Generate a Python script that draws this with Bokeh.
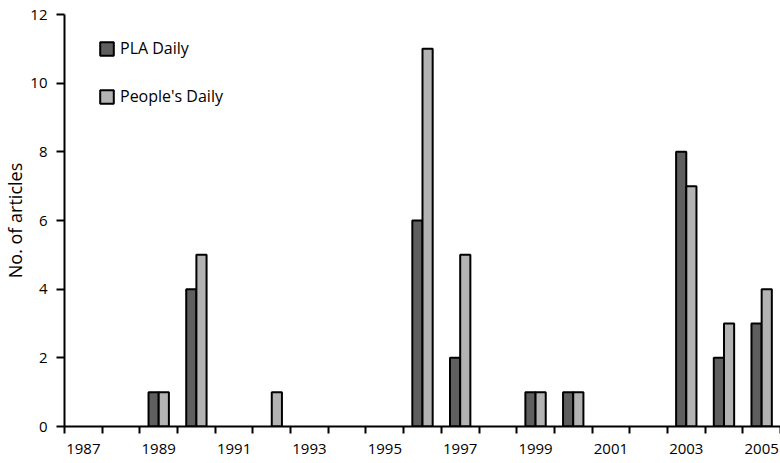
from bokeh.plotting import figure
from bokeh.models import Range1d, FixedTicker, Legend, LegendItem, ColumnDataSource
from bokeh.embed import file_html
from bokeh.resources import INLINE

years = list(range(1987, 2006))
pla_daily = [0, 0, 1, 4, 0, 0, 0, 0, 0, 6, 2, 0, 1, 1, 0, 0, 8, 2, 3]
peoples_daily = [0, 0, 1, 5, 0, 1, 0, 0, 0, 11, 5, 0, 1, 1, 0, 0, 7, 3, 4]
year_labels = [y for y in years if y % 2 == 1]
y_ticks = [0, 2, 4, 6, 8, 10, 12]

FONT = "Open Sans"
BAR_W = 0.27

def nonzero(vals, shift):
    xs = [y + shift for y, v in zip(years, vals) if v > 0]
    tops = [v for v in vals if v > 0]
    return ColumnDataSource(dict(x=xs, top=tops))

p = figure(width=780, height=463, output_backend="svg", toolbar_location=None,
           x_range=Range1d(1986.5, 2005.5), y_range=Range1d(0, 12),
           min_border_left=64, min_border_right=0, min_border_top=14, min_border_bottom=37)
p.outline_line_color = None
p.xgrid.visible = False
p.ygrid.visible = False
p.background_fill_color = "white"

r1 = p.vbar(x="x", top="top", width=BAR_W, bottom=0, source=nonzero(pla_daily, -BAR_W / 2),
            fill_color="#5f5f5f", line_color="black", line_width=2)
r2 = p.vbar(x="x", top="top", width=BAR_W, bottom=0, source=nonzero(peoples_daily, BAR_W / 2),
            fill_color="#b3b3b3", line_color="black", line_width=2)

xa = p.xaxis[0]
xa.ticker = FixedTicker(ticks=year_labels, minor_ticks=[years[0] - 0.5 + i for i in range(len(years) + 1)])
xa.axis_line_width = 2
xa.axis_line_color = "black"
xa.major_tick_out = 0
xa.major_tick_in = 0
xa.minor_tick_out = 7
xa.minor_tick_in = 0
xa.minor_tick_line_width = 2
xa.minor_tick_line_color = "black"
xa.major_label_text_font = FONT
xa.major_label_text_font_size = "15px"
xa.major_label_text_color = "black"
xa.major_label_standoff = 10

ya = p.yaxis[0]
ya.ticker = FixedTicker(ticks=y_ticks, minor_ticks=[])
ya.axis_line_width = 2
ya.axis_line_color = "black"
ya.major_tick_out = 8
ya.major_tick_in = 0
ya.major_tick_line_width = 2
ya.major_tick_line_color = "black"
ya.minor_tick_out = 0
ya.minor_tick_in = 0
ya.major_label_text_font = FONT
ya.major_label_text_font_size = "15px"
ya.major_label_text_color = "black"
ya.major_label_standoff = 9
ya.axis_label = "No. of articles"
ya.axis_label_text_font = FONT
ya.axis_label_text_font_size = "18px"
ya.axis_label_text_font_style = "normal"
ya.axis_label_text_color = "black"
ya.axis_label_standoff = 0

legend = Legend(items=[LegendItem(label="PLA Daily", renderers=[r1]),
                       LegendItem(label="People's Daily", renderers=[r2])],
                location=(29, 314), border_line_alpha=0, background_fill_alpha=0,
                spacing=26, padding=5, margin=0, glyph_width=17, glyph_height=17,
                label_height=20, label_standoff=5,
                label_text_font=FONT, label_text_font_size="16px", label_text_color="black")
p.add_layout(legend)

open("out.html", "w").write(file_html(p, INLINE))
